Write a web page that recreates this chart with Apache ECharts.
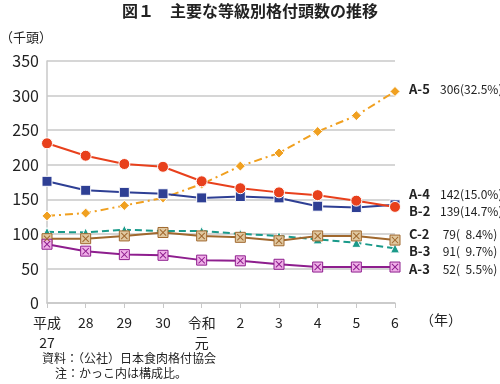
<!DOCTYPE html>
<html><head><meta charset="utf-8">
<script src="https://cdn.jsdelivr.net/npm/echarts@6/dist/echarts.min.js"></script>
<style>html,body{margin:0;padding:0;background:#fff}#c{width:500px;height:384px}</style>
</head><body><div id="c"></div>
<script>
const categories = ['平成\n27','28','29','30','令和\n元','2','3','4','5','6'];
const yTicks = [0,50,100,150,200,250,300,350];
const A5 = [126,130,141,152,172,198,217,248,271,306];
const A4 = [231,213,201,197,176,166,160,156,148,139];
const B2 = [176,163,160,158,152,154,152,140,138,142];
const C2 = [103,102,106,104,104,100,97,92,87,79];
const B3 = [93,93,97,102,97,95,90,97,97,91];
const A3 = [85,75,70,69,62,61,56,52,52,52];
const endLabels = [
  ['A-5','306(32.5%)'],
  ['A-4','142(15.0%)'],
  ['B-2','139(14.7%)'],
  ['C-2',' 79(  8.4%)'],
  ['B-3',' 91(  9.7%)'],
  ['A-3',' 52(  5.5%)']
];
const labelY = [91,196,213,236,253,271];

const font = '"Noto Sans CJK JP","Noto Sans",sans-serif';
const xPath = 'path://M1,0L5,4L9,0L10,1L6,5L10,9L9,10L5,6L1,10L0,9L4,5L0,1Z';

function line(data, color, symbol, size, dash, extra){
  return Object.assign({
    type:'line', data, symbol, symbolSize:size, smooth:false,
    lineStyle:{color, width:2, type:dash||'solid'},
    itemStyle:{color, borderColor:'#fff', borderWidth:1},
    z:3
  }, extra||{});
}
function xOverlay(data, color){
  return {type:'line', data, symbol:xPath, symbolSize:7, silent:true,
    lineStyle:{width:0, opacity:0}, itemStyle:{color}, z:5};
}

const graphics = [
  {type:'text', left:'center', top:3, style:{text:'図１　主要な等級別格付頭数の推移', font:'bold 16px '+font, fill:'#222'}},
  {type:'text', left:0, top:31, style:{text:'（千頭）', font:'13px '+font, fill:'#222'}},
  {type:'text', left:420, top:313, style:{text:'（年）', font:'14px '+font, fill:'#222'}},
  {type:'text', left:42, top:352, style:{text:'資料：（公社）日本食肉格付協会', font:'12px '+font, fill:'#222'}},
  {type:'text', left:55, top:367, style:{text:'注：かっこ内は構成比。', font:'12px '+font, fill:'#222'}}
];
endLabels.forEach((l,i)=>{
  graphics.push({type:'text', left:409, top:labelY[i]-8, style:{text:l[0], font:'bold 13px '+font, fill:'#222'}});
  graphics.push({type:'text', left:440, top:labelY[i]-8, style:{text:l[1], font:'12px '+font, fill:'#222'}});
});

const chart = echarts.init(document.getElementById('c'));
chart.setOption({
  animation:false,
  grid:{left:47, right:105, top:61, bottom:81},
  xAxis:{type:'category', data:categories, boundaryGap:false,
    axisLine:{lineStyle:{color:'#c8c8c8', width:1.5}},
    axisTick:{show:true, length:5, lineStyle:{color:'#c8c8c8'}},
    axisLabel:{color:'#222', fontSize:14, fontFamily:font, margin:10, lineHeight:20, interval:0}},
  yAxis:{type:'value', min:0, max:350, interval:50,
    axisLine:{show:true, lineStyle:{color:'#c8c8c8', width:1.5}},
    axisTick:{show:false},
    axisLabel:{color:'#222', fontSize:16, fontFamily:font, margin:8},
    splitLine:{lineStyle:{color:'#c8c8c8', width:1.5}}},
  graphic:graphics,
  series:[
    line(A5,'#f0a020','diamond',10,[8,4,2,4]),
    line(C2,'#1a9a8a','triangle',9,[7,4]),
    line(B3,'#a0682e','rect',10,'solid',{itemStyle:{color:'#e0c8a0', borderColor:'#a0682e', borderWidth:1}}),
    xOverlay(B3,'#a0682e'),
    line(A3,'#8e1e8e','rect',10,'solid',{itemStyle:{color:'#f0b0e8', borderColor:'#8e1e8e', borderWidth:1}}),
    xOverlay(A3,'#8e1e8e'),
    line(B2,'#2e3f94','rect',10),
    line(A4,'#e8401c','circle',11)
  ]
});
</script></body></html>
